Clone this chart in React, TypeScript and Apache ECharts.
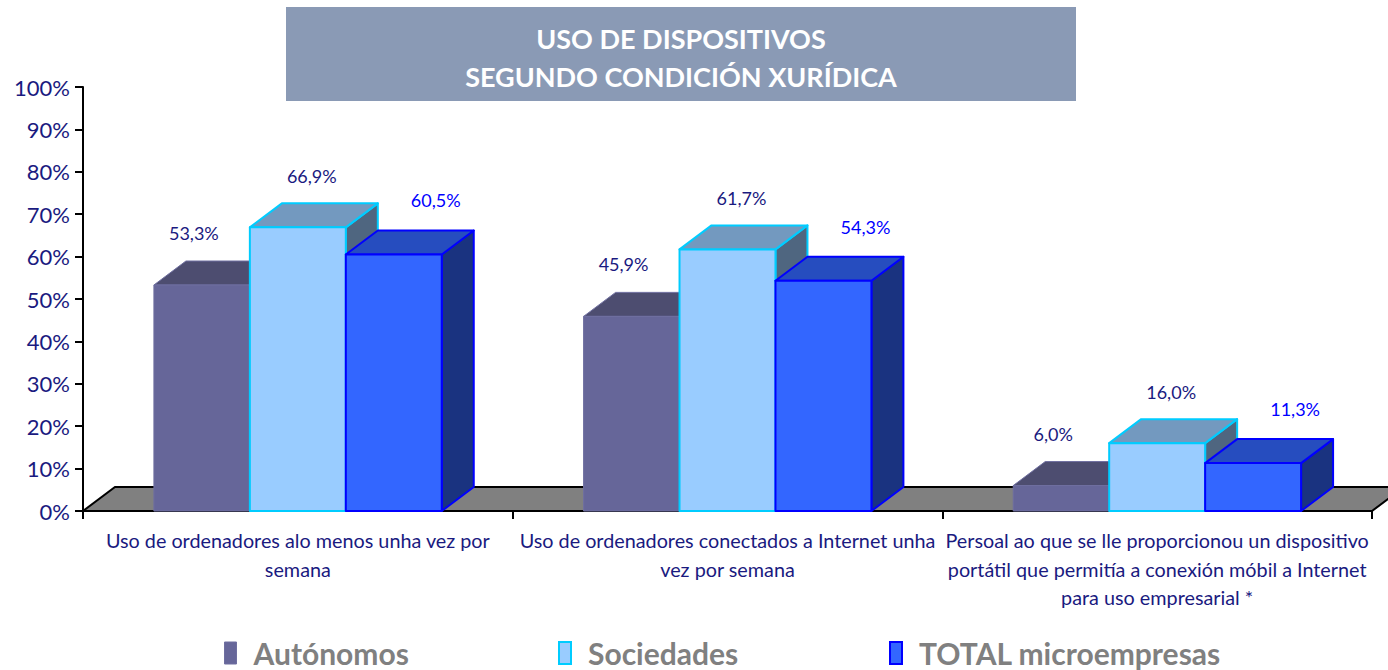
import React, { useEffect, useRef } from "react";
import * as echarts from "echarts";

const categories = [
  "Uso de ordenadores alo menos unha vez por\nsemana",
  "Uso de ordenadores conectados a Internet unha\nvez por semana",
  "Persoal ao que se lle proporcionou un dispositivo\nportátil que permitía a conexión móbil a Internet\npara uso empresarial *",
];
const seriesNames = ["Autónomos", "Sociedades", "TOTAL microempresas"];
const autonomos = [53.3, 45.9, 6.0];
const sociedades = [66.9, 61.7, 16.0];
const total = [60.5, 54.3, 11.3];
const yTicks = [0, 10, 20, 30, 40, 50, 60, 70, 80, 90, 100];
const titleLines = ["USO DE DISPOSITIVOS", "SEGUNDO CONDICIÓN XURÍDICA"];

const FONT = "Lato";
const DX = 32;
const DY = 24;

const styles = [
  { front: "#666699", top: "#4d4d70", side: "#3d3d5c", border: "#6f6fa0", bw: 1, label: "#1a1a80", ldx: -8, ldy: 28 },
  { front: "#99ccff", top: "#7399bf", side: "#4f6680", border: "#00ccff", bw: 2, label: "#1a1a80", ldx: 14, ldy: 27 },
  { front: "#3366ff", top: "#264dbf", side: "#1a3380", border: "#0000ff", bw: 2, label: "#0000ff", ldx: 42, ldy: 30 },
];

function fmt(v: number) {
  return v.toFixed(1).replace(".", ",") + "%";
}

function makeRender(si: number) {
  const st = styles[si];
  return (params: any, api: any) => {
    const cat = api.value(0);
    const val = api.value(1);
    const base = api.coord([cat, 0]);
    const topPt = api.coord([cat, val]);
    const catW = api.size([1, 0])[0];
    const bw = catW * 0.2233;
    const x0 = base[0] - 1.5 * bw + si * bw;
    const x1 = x0 + bw;
    const yb = base[1];
    const yt = topPt[1];
    const stroke = { stroke: st.border, lineWidth: st.bw, lineJoin: "round" };
    return {
      type: "group",
      children: [
        {
          type: "polygon",
          shape: { points: [[x1, yt], [x1 + DX, yt - DY], [x1 + DX, yb - DY], [x1, yb]] },
          style: { fill: st.side, ...stroke },
        },
        {
          type: "polygon",
          shape: { points: [[x0, yt], [x0 + DX, yt - DY], [x1 + DX, yt - DY], [x1, yt]] },
          style: { fill: st.top, ...stroke },
        },
        {
          type: "rect",
          shape: { x: x0, y: yt, width: bw, height: yb - yt },
          style: { fill: st.front, ...stroke },
        },
        {
          type: "text",
          z2: 100,
          style: {
            text: fmt(val),
            x: (x0 + x1) / 2 + st.ldx,
            y: yt - DY - st.ldy,
            align: "center",
            verticalAlign: "middle",
            fill: st.label,
            font: `18px ${FONT}`,
          },
        },
      ],
    };
  };
}

export default function App() {
  const ref = useRef<HTMLDivElement>(null);
  useEffect(() => {
    if (!ref.current) return;
    const chart = echarts.init(ref.current, undefined, { renderer: "svg" });
    const dataSets = [autonomos, sociedades, total];
    const legendLeft = [224, 558, 889];
    chart.setOption({
      animation: false,
      backgroundColor: "#ffffff",
      grid: { left: 83, right: 16, top: 87, bottom: 159, containLabel: false },
      xAxis: {
        type: "category",
        data: categories,
        axisLine: { lineStyle: { color: "#000", width: 2 } },
        axisTick: { show: true, length: 8, lineStyle: { color: "#000", width: 2 } },
        axisLabel: {
          interval: 0,
          color: "#1a1a80",
          fontFamily: FONT,
          fontSize: 19.8,
          lineHeight: 28.5,
          margin: 15,
        },
        splitLine: { show: false },
      },
      yAxis: {
        type: "value",
        min: yTicks[0],
        max: yTicks[yTicks.length - 1],
        interval: 10,
        axisLine: { show: true, lineStyle: { color: "#000", width: 2 } },
        axisTick: { show: true, length: 8, lineStyle: { color: "#000", width: 2 } },
        axisLabel: {
          formatter: "{value}%",
          color: "#1a1a80",
          fontFamily: FONT,
          fontSize: 22,
          margin: 13,
        },
        splitLine: { show: false },
      },
      legend: seriesNames.map((n, i) => ({
        data: [
          {
            name: n,
            icon: "rect",
            itemStyle: { color: styles[i].front, borderColor: styles[i].border, borderWidth: styles[i].bw },
          },
        ],
        left: legendLeft[i],
        top: 638,
        padding: 0,
        itemWidth: 12,
        itemHeight: 22,
        itemGap: 6,
        textStyle: { color: "#808080", fontWeight: "bold", fontSize: 30, fontFamily: FONT, padding: [0, 0, 0, 12] },
      })),
      graphic: [
        {
          type: "rect",
          shape: { x: 286, y: 7, width: 790, height: 94 },
          style: { fill: "#8a9ab5" },
          z: 0,
        },
        {
          type: "text",
          x: 681,
          y: 38,
          style: { text: titleLines[0], align: "center", verticalAlign: "middle", fill: "#ffffff", font: `bold 27px ${FONT}` },
        },
        {
          type: "text",
          x: 681,
          y: 76,
          style: { text: titleLines[1], align: "center", verticalAlign: "middle", fill: "#ffffff", font: `bold 27px ${FONT}` },
        },
      ],
      series: [
        {
          type: "custom",
          name: "floor",
          silent: true,
          z: 1,
          data: [[0, 0]],
          renderItem: (params: any) => {
            const cs = params.coordSys;
            const yb = cs.y + cs.height;
            return {
              type: "polygon",
              shape: {
                points: [
                  [cs.x, yb],
                  [cs.x + DX, yb - DY],
                  [cs.x + cs.width + DX, yb - DY],
                  [cs.x + cs.width, yb],
                ],
              },
              style: { fill: "#808080", stroke: "#000", lineWidth: 2 },
            };
          },
        },
        ...seriesNames.map((n, i) => ({
          type: "custom",
          name: n,
          z: 3,
          itemStyle: { color: styles[i].front, borderColor: styles[i].border },
          data: dataSets[i].map((v, ci) => [ci, v]),
          encode: { x: 0, y: 1 },
          renderItem: makeRender(i),
        })),
      ],
    });
    return () => chart.dispose();
  }, []);
  return <div ref={ref} style={{ width: 1388, height: 670, position: "absolute", left: 0, top: 0 }} />;
}
